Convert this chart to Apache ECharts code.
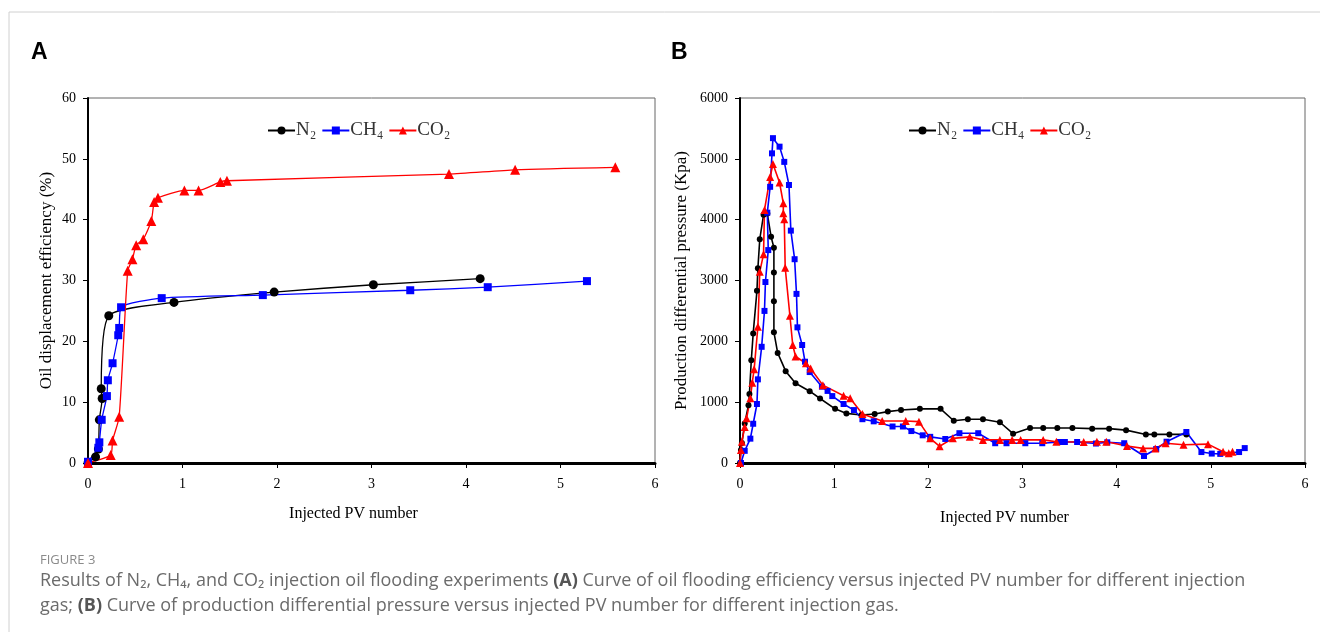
<!DOCTYPE html>
<html>
<head>
<meta charset="utf-8">
<script src="https://cdn.jsdelivr.net/npm/echarts@6/dist/echarts.min.js"></script>
<style>
  html, body { margin: 0; padding: 0; background: #fff; }
  #chart { width: 1320px; height: 632px; }
</style>
</head>
<body>
<div id="chart"></div>
<script>
// Panel A: oil displacement efficiency (%) vs injected PV
const effN2 = [[0, 0], [0.08, 1.0], [0.11, 2.3], [0.12, 7.1], [0.15, 10.6], [0.14, 12.2], [0.22, 24.2],
  [0.91, 26.4], [1.97, 28.1], [3.02, 29.3], [4.15, 30.3]];
const effCH4 = [[0, 0.2], [0.11, 2.5], [0.12, 3.4], [0.145, 7.1], [0.2, 11.0], [0.21, 13.6], [0.26, 16.4],
  [0.32, 21.0], [0.33, 22.2], [0.35, 25.6], [0.78, 27.1], [1.85, 27.6], [3.41, 28.4], [4.23, 28.9], [5.28, 29.9]];
const effCO2 = [[0, 0], [0.24, 1.3], [0.26, 3.7], [0.33, 7.6], [0.42, 31.6], [0.47, 33.5], [0.51, 35.8],
  [0.585, 36.8], [0.67, 39.8], [0.7, 42.9], [0.74, 43.6], [1.02, 44.8], [1.17, 44.8], [1.4, 46.2],
  [1.47, 46.4], [3.82, 47.5], [4.52, 48.2], [5.58, 48.6]];

// Panel B: production differential pressure (Kpa) vs injected PV
const dpN2 = [[0, 0], [0.01, 215], [0.02, 330], [0.05, 650], [0.09, 950], [0.1, 1135], [0.12, 1690],
  [0.14, 2130], [0.18, 2830], [0.19, 3200], [0.21, 3680], [0.25, 4080], [0.29, 4100], [0.33, 3720],
  [0.36, 3540], [0.36, 3130], [0.36, 2660], [0.36, 2150], [0.4, 1810], [0.485, 1510], [0.59, 1310],
  [0.74, 1180], [0.85, 1060], [1.01, 890], [1.13, 815], [1.29, 790], [1.43, 805], [1.57, 845],
  [1.71, 870], [1.91, 890], [2.13, 890], [2.27, 695], [2.42, 718], [2.58, 718], [2.76, 670],
  [2.9, 482], [3.08, 575], [3.22, 575], [3.37, 575], [3.53, 575], [3.74, 565], [3.92, 565],
  [4.1, 540], [4.31, 470], [4.4, 470], [4.56, 470], [4.74, 470]];
const dpCH4 = [[0.01, 0], [0.05, 200], [0.11, 400], [0.14, 645], [0.18, 970], [0.19, 1375], [0.23, 1910],
  [0.26, 2500], [0.27, 2975], [0.3, 3500], [0.29, 4115], [0.32, 4540], [0.34, 5090], [0.35, 5340],
  [0.42, 5200], [0.47, 4950], [0.52, 4570], [0.54, 3820], [0.58, 3350], [0.6, 2780], [0.61, 2230],
  [0.66, 1940], [0.69, 1665], [0.74, 1495], [0.87, 1255], [0.93, 1185], [0.98, 1100], [1.1, 970],
  [1.21, 870], [1.3, 720], [1.42, 685], [1.62, 600], [1.73, 600], [1.82, 525], [1.94, 455],
  [2.02, 430], [2.18, 395], [2.33, 490], [2.53, 490], [2.71, 325], [2.83, 325], [3.03, 325],
  [3.21, 325], [3.39, 345], [3.45, 345], [3.58, 345], [3.78, 320], [3.9, 340], [4.08, 325],
  [4.29, 115], [4.42, 230], [4.53, 350], [4.74, 510], [4.9, 180], [5.01, 155], [5.1, 150],
  [5.3, 180], [5.36, 245]];
const dpCO2 = [[0, 0], [0.01, 215], [0.02, 350], [0.05, 590], [0.07, 735], [0.11, 1065], [0.13, 1320],
  [0.15, 1540], [0.19, 2240], [0.21, 3145], [0.25, 3430], [0.26, 4160], [0.32, 4700], [0.35, 4915],
  [0.42, 4610], [0.46, 4270], [0.46, 4105], [0.47, 4005], [0.48, 3210], [0.53, 2420], [0.56, 1940],
  [0.59, 1750], [0.7, 1640], [0.75, 1555], [0.88, 1280], [1.1, 1105], [1.17, 1065], [1.3, 805],
  [1.51, 690], [1.76, 690], [1.9, 680], [2.02, 405], [2.12, 275], [2.26, 405], [2.44, 430],
  [2.58, 380], [2.76, 380], [2.89, 380], [2.98, 380], [3.22, 380], [3.36, 350], [3.65, 345],
  [3.79, 350], [3.89, 350], [4.11, 280], [4.28, 240], [4.41, 240], [4.52, 325], [4.71, 300],
  [4.97, 310], [5.13, 185], [5.19, 160], [5.23, 185]];

const gasNames = ['N\u2082', 'CH\u2084', 'CO\u2082'];
const gasColors = ['#000000', '#0000ff', '#ff0000'];
const gasSymbols = ['circle', 'rect', 'triangle'];

const serif = "'Liberation Serif', 'DejaVu Serif', serif";
const sans = "'Open Sans', 'Noto Sans', sans-serif";

const chart = echarts.init(document.getElementById('chart'));

function xAxisOpt(gridIndex, gap) {
  return {
    type: 'value', gridIndex, min: 0, max: 6, interval: 1,
    name: 'Injected PV number', nameLocation: 'middle', nameGap: gap,
    nameTextStyle: { color: '#000', fontFamily: serif, fontSize: 16, padding: [0, 36, 0, 0] },
    axisLine: { onZero: false, lineStyle: { color: '#000', width: 3 } },
    axisTick: { show: true, length: 5, lineStyle: { color: '#000', width: 1 } },
    axisLabel: { color: '#000', fontFamily: serif, fontSize: 14, margin: 14 },
    splitLine: { show: false }
  };
}

function yAxisOpt(gridIndex, max, interval, name, gap) {
  return {
    type: 'value', gridIndex, min: 0, max, interval,
    name, nameLocation: 'middle', nameGap: gap,
    nameTextStyle: { color: '#000', fontFamily: serif, fontSize: 17 },
    axisLine: { show: true, lineStyle: { color: '#000', width: 2 } },
    axisTick: { show: true, length: 5, lineStyle: { color: '#000', width: 1 } },
    axisLabel: { color: '#000', fontFamily: serif, fontSize: 14, margin: 12, formatter: (v) => String(v) },
    splitLine: { show: false }
  };
}

function lineSeries(i, data, gridIdx, symbolSize, lineWidth, smooth) {
  return {
    name: gasNames[i], type: 'line', data,
    xAxisIndex: gridIdx, yAxisIndex: gridIdx,
    symbol: gasSymbols[i], symbolSize: i === 2 ? symbolSize + 2 : symbolSize,
    smooth,
    color: gasColors[i],
    itemStyle: { color: gasColors[i] },
    lineStyle: { color: gasColors[i], width: lineWidth },
    animation: false
  };
}

function legendOpt(left) {
  return {
    data: gasNames, left, top: 116, itemGap: 5, itemWidth: 27, itemHeight: 10,
    textStyle: { color: '#333', fontFamily: serif, fontSize: 19, padding: [0, 0, 0, -4] }
  };
}

const option = {
  backgroundColor: '#fff',
  animation: false,
  grid: [
    { left: 88, top: 98, width: 567, height: 365, show: true, borderColor: '#666', borderWidth: 1 },
    { left: 740, top: 98, width: 565, height: 365, show: true, borderColor: '#666', borderWidth: 1 }
  ],
  legend: [legendOpt(262), legendOpt(903)],
  xAxis: [xAxisOpt(0, 43), xAxisOpt(1, 47)],
  yAxis: [
    yAxisOpt(0, 60, 10, 'Oil displacement efficiency (%)', 33),
    yAxisOpt(1, 6000, 1000, 'Production differential pressure (Kpa)', 50)
  ],
  series: [
    lineSeries(0, effN2, 0, 9, 1.3, 0.2),
    lineSeries(1, effCH4, 0, 8, 1.3, 0.2),
    lineSeries(2, effCO2, 0, 8, 1.3, 0.2),
    lineSeries(0, dpN2, 1, 6, 1.6, false),
    lineSeries(1, dpCH4, 1, 6, 1.6, false),
    lineSeries(2, dpCO2, 1, 6, 1.6, false)
  ],
  graphic: [
    { type: 'line', shape: { x1: 9, y1: 12, x2: 1320, y2: 12 }, style: { stroke: '#d0d0d0', lineWidth: 1 } },
    { type: 'line', shape: { x1: 9, y1: 12, x2: 9, y2: 632 }, style: { stroke: '#d0d0d0', lineWidth: 1 } },
    { type: 'text', left: 31, top: 41, style: { text: 'A', fontFamily: "'Liberation Sans', Arial, sans-serif", fontWeight: 'bold', fontSize: 23, fill: '#000' } },
    { type: 'text', left: 671, top: 41, style: { text: 'B', fontFamily: "'Liberation Sans', Arial, sans-serif", fontWeight: 'bold', fontSize: 23, fill: '#000' } },
    { type: 'text', left: 40, top: 554, style: { text: 'FIGURE 3', fontFamily: sans, fontSize: 13, fill: '#8a8a8a' } },
    {
      type: 'text', left: 40, top: 572,
      style: {
        text: '{t|Results of N\u2082, CH\u2084, and CO\u2082 injection oil flooding experiments }{b|(A)}{t| Curve of oil flooding efficiency versus injected PV number for different injection}\n' +
              '{t|gas; }{b|(B)}{t| Curve of production differential pressure versus injected PV number for different injection gas.}',
        rich: {
          t: { fontFamily: sans, fontSize: 18, fill: '#6b6b6b', lineHeight: 25 },
          b: { fontFamily: sans, fontSize: 18, fontWeight: 'bold', fill: '#555', lineHeight: 25 }
        }
      }
    }
  ]
};

chart.setOption(option);
</script>
</body>
</html>
